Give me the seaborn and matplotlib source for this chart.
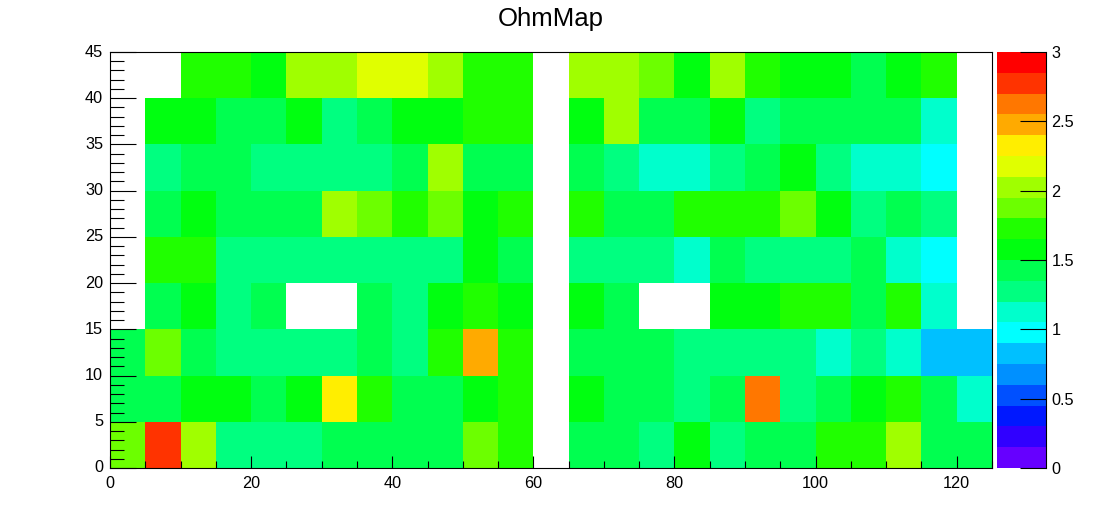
import numpy as np
import pandas as pd
import seaborn as sb
import matplotlib.pyplot as plt
from matplotlib.colors import ListedColormap, BoundaryNorm

nan = np.nan

# bin edges (x: 25 bins of 5, y: 9 bins of 5)
x_bins = np.arange(0, 125, 5)
y_bins = np.arange(0, 45, 5)

# one list per y bin, bottom (0-5) to top (40-45)
row_0 = [1.88, 2.78, 2.03, 1.28, 1.28, 1.28, 1.43, 1.43, 1.43, 1.43, 1.88, 1.73, nan,
         1.43, 1.43, 1.28, 1.58, 1.28, 1.43, 1.43, 1.73, 1.73, 2.03, 1.43, 1.43]
row_5 = [1.43, 1.43, 1.58, 1.58, 1.43, 1.58, 2.33, 1.73, 1.43, 1.43, 1.58, 1.73, nan,
         1.58, 1.43, 1.43, 1.28, 1.43, 2.63, 1.28, 1.43, 1.58, 1.73, 1.43, 1.13]
row_10 = [1.43, 1.88, 1.43, 1.28, 1.28, 1.28, 1.28, 1.43, 1.28, 1.73, 2.48, 1.73, nan,
          1.43, 1.43, 1.43, 1.28, 1.28, 1.28, 1.28, 1.13, 1.28, 1.13, 0.83, 0.83]
row_15 = [nan, 1.43, 1.58, 1.28, 1.43, nan, nan, 1.43, 1.28, 1.58, 1.73, 1.58, nan,
          1.58, 1.43, nan, nan, 1.58, 1.58, 1.73, 1.73, 1.43, 1.73, 1.13, nan]
row_20 = [nan, 1.73, 1.73, 1.28, 1.28, 1.28, 1.28, 1.28, 1.28, 1.28, 1.58, 1.43, nan,
          1.28, 1.28, 1.28, 1.13, 1.43, 1.28, 1.28, 1.28, 1.43, 1.13, 0.98, nan]
row_25 = [nan, 1.43, 1.58, 1.43, 1.43, 1.43, 2.03, 1.88, 1.73, 1.88, 1.58, 1.73, nan,
          1.73, 1.43, 1.43, 1.73, 1.73, 1.73, 1.88, 1.58, 1.28, 1.43, 1.28, nan]
row_30 = [nan, 1.28, 1.43, 1.43, 1.28, 1.28, 1.28, 1.28, 1.43, 2.03, 1.43, 1.43, nan,
          1.43, 1.28, 1.13, 1.13, 1.28, 1.43, 1.58, 1.28, 1.13, 1.13, 0.98, nan]
row_35 = [nan, 1.58, 1.58, 1.43, 1.43, 1.58, 1.28, 1.43, 1.58, 1.58, 1.73, 1.73, nan,
          1.58, 2.03, 1.43, 1.43, 1.58, 1.28, 1.43, 1.43, 1.43, 1.43, 1.13, nan]
row_40 = [nan, nan, 1.73, 1.73, 1.58, 2.03, 2.03, 2.18, 2.18, 2.03, 1.73, 1.73, nan,
          2.03, 2.03, 1.88, 1.58, 2.03, 1.73, 1.58, 1.58, 1.43, 1.58, 1.73, nan]

x_ticks = [0, 20, 40, 60, 80, 100, 120]
y_ticks = [0, 5, 10, 15, 20, 25, 30, 35, 40, 45]
z_ticks = [0, 0.5, 1, 1.5, 2, 2.5, 3]
z_labels = ["0", "0.5", "1", "1.5", "2", "2.5", "3"]

# 20 contour colours, 0 -> 3
palette = ["#6600ff", "#3000ff", "#0018ff", "#0050ff", "#0090ff",
           "#00c0ff", "#00ffff", "#00ffcc", "#00ff80", "#00ff50",
           "#00ff10", "#20ff00", "#6cff00", "#a0ff00", "#e0ff00",
           "#ffee00", "#ffaa00", "#ff7700", "#ff3300", "#ff0000"]

datos = pd.DataFrame([row_0, row_5, row_10, row_15, row_20, row_25, row_30, row_35, row_40],
                     index=y_bins, columns=x_bins)

plt.rcParams["font.family"] = ["Liberation Sans", "DejaVu Sans"]

W, H = 1102, 522
fig = plt.figure(figsize=(W / 100, H / 100), dpi=100)
ax = fig.add_axes([110 / W, 1 - 468 / H, 882 / W, 416 / H])
cax = fig.add_axes([997 / W, 1 - 468 / H, 49 / W, 416 / H])

cmap = ListedColormap(palette)
norm = BoundaryNorm(np.linspace(0, 3, 21), 20)

sb.heatmap(datos, ax=ax, cbar_ax=cax, cmap=cmap, norm=norm,
           cbar_kws={"ticks": z_ticks})
ax.invert_yaxis()

nx, ny = len(x_bins), len(y_bins)
ax.set_xlim(0, nx)
ax.set_ylim(0, ny)
ax.set_xticks([t / 5 for t in x_ticks])
ax.set_xticklabels([str(t) for t in x_ticks], rotation=0)
ax.set_xticks(np.arange(0, nx + 0.01, 1), minor=True)
ax.set_yticks([t / 5 for t in y_ticks])
ax.set_yticklabels([str(t) for t in y_ticks], rotation=0)
ax.set_yticks(np.arange(0, ny + 0.01, 0.2), minor=True)
ax.set_xlabel("")
ax.set_ylabel("")

for s in ax.spines.values():
    s.set_visible(True)
    s.set_color("black")
    s.set_linewidth(0.8)

ax.tick_params(axis="x", which="major", direction="in", length=9, width=0.8,
               labelsize=11.7, pad=6, colors="black")
ax.tick_params(axis="x", which="minor", direction="in", length=5, width=0.8)
ax.tick_params(axis="y", which="major", direction="in", length=19, width=0.8,
               labelsize=11.7, pad=5, colors="black")
ax.tick_params(axis="y", which="minor", direction="in", length=10, width=0.8)

cax.set_yticklabels(z_labels)
cax.tick_params(axis="y", which="major", direction="in", length=19, width=0.8,
                labelsize=11.7, pad=4, colors="black", right=True, left=False)
cax.tick_params(axis="y", which="minor", length=0)
cax.plot([1, 1], [0, 1], transform=cax.transAxes, color="black", lw=0.8, clip_on=False)

fig.text(0.5, 1 - 19 / H, "OhmMap", ha="center", va="center", fontsize=18.5)

plt.savefig("out.png", dpi=100)
